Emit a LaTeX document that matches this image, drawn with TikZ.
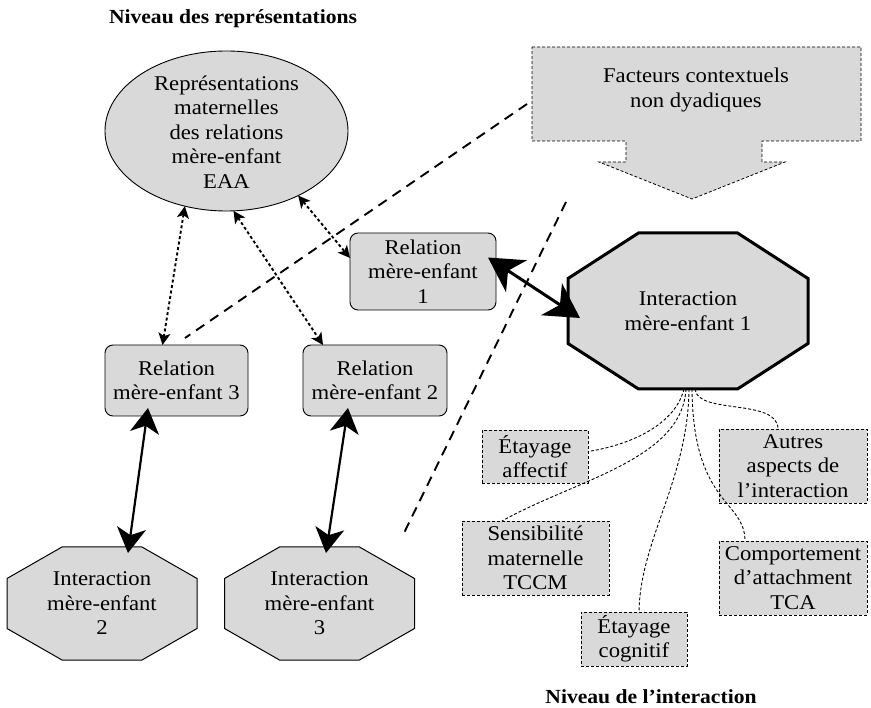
\documentclass[tikz,border=0pt]{standalone}
\usepackage{fontspec}
\setmainfont{Liberation Serif}[FakeStretch=1.08]
\usepackage{tikz}
\usetikzlibrary{shapes.geometric,arrows.meta,calc}
\definecolor{boxgray}{RGB}{217,217,217}
\begin{document}
\begin{tikzpicture}[x=1pt,y=-1pt,
  txt/.style={font=\fontsize{21}{24.5}\selectfont, align=center},
  ttl/.style={font=\bfseries\fontsize{20}{22}\selectfont, anchor=base},
  ell/.style={ellipse, draw, fill=boxgray, line width=0.9pt, inner sep=0pt, outer sep=0pt},
  relbox/.style={txt, draw, fill=boxgray, rounded corners=8pt, line width=0.9pt, inner sep=0pt, outer sep=0pt},
  octfill/.style={draw, fill=boxgray, line join=miter},
  octnode/.style={txt, inner sep=0pt, outer sep=0pt},
  dbox/.style={txt, draw, dash pattern=on 3pt off 2pt, line width=0.8pt, fill=boxgray, inner sep=0pt, outer sep=0pt},
  facshape/.style={draw, dash pattern=on 3pt off 2pt, line width=0.8pt, fill=boxgray},
  longdash/.style={line width=1.9pt, dash pattern=on 10pt off 7pt},
  dotarrow/.style={line width=1.9pt, dash pattern=on 3pt off 2.5pt, {Stealth[length=12pt,width=12pt,inset=3pt]}-{Stealth[length=12pt,width=12pt,inset=3pt]}},
  thickarrow/.style={line width=3pt, {Stealth[length=34pt,width=38pt,inset=10pt]}-{Stealth[length=34pt,width=38pt,inset=10pt]}},
  medarrow/.style={line width=2.2pt, {Stealth[length=25pt,width=29pt,inset=7pt]}-{Stealth[length=25pt,width=29pt,inset=7pt]}},
  curvy/.style={line width=0.9pt, dash pattern=on 3pt off 2pt}
]
\useasboundingbox (0,0) rectangle (871,708);

% titles
\node[ttl] (t1) at (233,23.5) {Niveau des représentations};
\node[ttl] (t2) at (651,703) {Niveau de l'interaction};

% facteurs arrow shape
\draw[facshape] (532,47) -- (861,47) -- (861,141) -- (762,141) -- (762,162) -- (785,162)
  -- (692,199) -- (599,162) -- (626,162) -- (626,141) -- (532,141) -- cycle;
\node[txt] (fac) at (696,90) {Facteurs contextuels\\non dyadiques};

% long dashed lines
\coordinate (d1a) at (527,104);
\coordinate (d1b) at (185,338);
\coordinate (d2a) at (566,202);
\coordinate (d2b) at (403,535);
\draw[longdash] (d1a) -- (d1b);
\draw[longdash] (d2a) -- (d2b);

% ellipse
\node[ell, minimum width=243pt, minimum height=160pt] (e) at (226.5,131) {};
\node[txt] (etext) at (226.5,132) {Représentations\\maternelles\\des relations\\mère-enfant\\EAA};

% relation boxes
\node[relbox, minimum width=146pt, minimum height=77pt] (r1) at (423,271.5) {Relation\\mère-enfant\\1};
\node[relbox, minimum width=143pt, minimum height=71pt] (r3) at (176.5,380.5) {Relation\\mère-enfant 3};
\node[relbox, minimum width=144pt, minimum height=71pt] (r2) at (375,380.5) {Relation\\mère-enfant 2};

% octagons (outline drawn directly, text node on top)
\draw[octfill, line width=3pt] (638.5,233) -- (737.5,233) -- (808,278.5) -- (808,343.5)
  -- (737.5,389) -- (638.5,389) -- (568,343.5) -- (568,278.5) -- cycle;
\node[octnode, minimum width=240pt, minimum height=156pt] (i1) at (688,311) {Interaction\\mère-enfant 1};
\draw[octfill, line width=1pt] (62,547) -- (142,547) -- (197,578.5) -- (197,628.5)
  -- (142,660) -- (62,660) -- (7,628.5) -- (7,578.5) -- cycle;
\node[octnode, minimum width=190pt, minimum height=113pt] (i2) at (102,603.5) {Interaction\\mère-enfant\\2};
\draw[octfill, line width=1pt] (279.5,547) -- (359.5,547) -- (414.5,578.5) -- (414.5,628.5)
  -- (359.5,660) -- (279.5,660) -- (224.5,628.5) -- (224.5,578.5) -- cycle;
\node[octnode, minimum width=190pt, minimum height=113pt] (i3) at (319.5,603.5) {Interaction\\mère-enfant\\3};

% interaction aspect boxes
\node[dbox, minimum width=106pt, minimum height=53pt] (aff) at (535,456.5) {Étayage\\affectif};
\node[dbox, minimum width=148pt, minimum height=74pt] (aut) at (793,466) {Autres\\aspects de\\l'interaction};
\node[dbox, minimum width=147pt, minimum height=74pt] (sen) at (535.5,558) {Sensibilité\\maternelle\\TCCM};
\node[dbox, minimum width=148pt, minimum height=74pt] (com) at (793,578) {Comportement\\d'attachment\\TCA};
\node[dbox, minimum width=106pt, minimum height=54pt] (cog) at (634,639) {Étayage\\cognitif};

% dotted arrows
\draw[dotarrow] (e.241) -- ([xshift=-14pt]r3.north);
\draw[dotarrow] (e.275) -- ([xshift=20pt]r2.north west);
\draw[dotarrow] (e.318) -- ([yshift=13.5pt]r1.west);

% thick arrows
\draw[thickarrow] ([xshift=-8pt,yshift=14pt]r1.east) -- ([xshift=12pt,yshift=-7pt]i1.west);
\draw[medarrow] ([xshift=-28.5pt,yshift=8pt]r3.south) -- ([xshift=26pt,yshift=-6pt]i2.north);
\draw[medarrow] ([xshift=-27pt,yshift=8pt]r2.south) -- ([xshift=6.5pt,yshift=-6pt]i3.north);

% curvy connectors
\draw[curvy] ([xshift=-4pt]i1.south) .. controls (675,425) and (630,445) .. ([yshift=5pt]aff.east);
\draw[curvy] ([xshift=-2pt]i1.south) .. controls (682,460) and (575,480) .. ([xshift=40pt]sen.north west);
\draw[curvy] ([xshift=1pt]i1.south) .. controls (688,480) and (640,540) .. ([xshift=58pt]cog.north west);
\draw[curvy] ([xshift=4pt]i1.south) .. controls (693,505) and (745,500) .. ([xshift=26pt]com.north west);
\draw[curvy] ([xshift=7pt]i1.south) .. controls (697,415) and (778,398) .. ([xshift=59pt]aut.north west);
\end{tikzpicture}
\end{document}
